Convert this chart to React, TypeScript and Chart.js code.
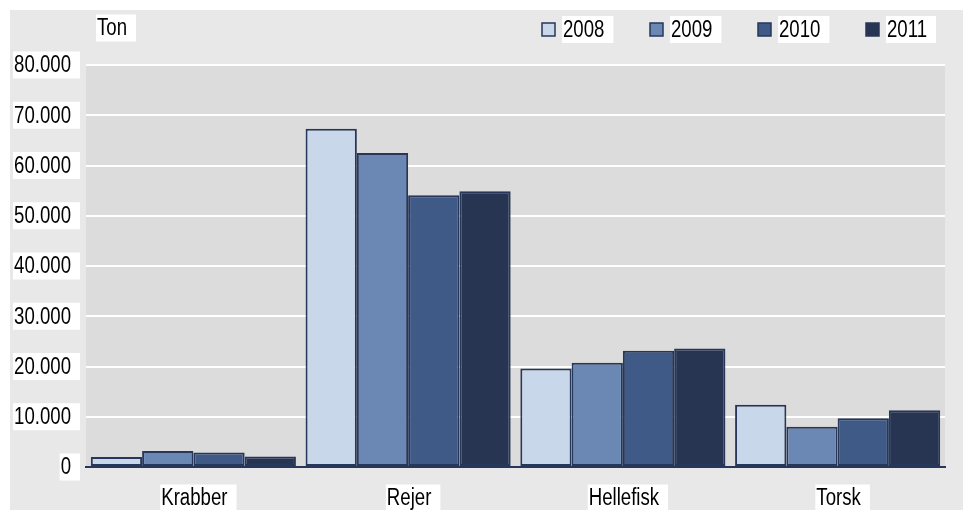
import React, { useEffect, useRef } from "react";
import { Chart, registerables } from "chart.js";

Chart.register(...registerables);

const categories = ["Krabber", "Rejer", "Hellefisk", "Torsk"];
const years = ["2008", "2009", "2010", "2011"];
const v2008 = [2000, 67300, 19600, 12400];
const v2009 = [3200, 62500, 20750, 8000];
const v2010 = [2900, 54100, 23150, 9700];
const v2011 = [2100, 54900, 23600, 11300];
const colors = ["#c8d7ea", "#6b88b5", "#405a87", "#283552"];
const unitLabel = "Ton";

const FONT = '"Liberation Sans", Arial, sans-serif';
const SX = 0.81;

function fmt(v: number): string {
  const s = String(Math.round(v));
  return s.replace(/\B(?=(\d{3})+(?!\d))/g, ".");
}

function textW(ctx: CanvasRenderingContext2D, text: string) {
  return ctx.measureText(text).width * SX;
}

function boxText(ctx: CanvasRenderingContext2D, text: string, left: number, cy: number) {
  const w = textW(ctx, text);
  ctx.fillStyle = "#ffffff";
  ctx.fillRect(left - 1, cy - 13.5, w + 10, 27);
  ctx.save();
  ctx.translate(left, cy + 1);
  ctx.scale(SX, 1);
  ctx.fillStyle = "#000000";
  ctx.textBaseline = "middle";
  ctx.textAlign = "left";
  ctx.fillText(text, 0, 0);
  ctx.restore();
}

const decor = {
  id: "decor",
  beforeDraw(chart: any) {
    const { ctx, chartArea } = chart;
    ctx.save();
    ctx.fillStyle = "#ffffff";
    ctx.fillRect(0, 0, chart.width, chart.height);
    ctx.fillStyle = "#e8e8e8";
    ctx.fillRect(10, 10, chart.width - 12, chart.height - 15);
    ctx.fillStyle = "#dcdcdc";
    ctx.fillRect(chartArea.left, chartArea.top, chartArea.right - chartArea.left, chartArea.bottom - chartArea.top);
    ctx.restore();
  },
  afterDraw(chart: any) {
    const { ctx } = chart;
    const y = chart.scales.y;
    const x = chart.scales.x;
    ctx.save();
    ctx.font = "23px " + FONT;
    y.ticks.forEach((t: any) => {
      const py = y.getPixelForValue(t.value);
      const txt = fmt(t.value);
      const w = textW(ctx, txt);
      boxText(ctx, txt, 71 - w, py);
    });
    categories.forEach((c, i) => {
      const px = x.getPixelForValue(i);
      const w = textW(ctx, c);
      boxText(ctx, c, px - w / 2 + 1, 498);
    });
    boxText(ctx, unitLabel, 97, 28);
    const ds = chart.data.datasets;
    ds.forEach((d: any, i: number) => {
      const bx = 542 + i * 108;
      ctx.fillStyle = d.backgroundColor;
      ctx.fillRect(bx, 23, 13, 13);
      ctx.strokeStyle = "#27375a";
      ctx.lineWidth = 1.5;
      ctx.strokeRect(bx, 23, 13, 13);
      boxText(ctx, d.label, bx + 21, 29.5);
    });
    ctx.restore();
  },
};

export default function App() {
  const ref = useRef<HTMLCanvasElement | null>(null);
  useEffect(() => {
    if (!ref.current) return;
    const series = [v2008, v2009, v2010, v2011];
    const chart = new Chart(ref.current, {
      type: "bar",
      data: {
        labels: categories,
        datasets: years.map((yr, i) => ({
          label: yr,
          data: series[i],
          backgroundColor: colors[i],
          borderColor: "#27375a",
          borderWidth: 2,
          borderSkipped: false,
          categoryPercentage: 0.955,
          barPercentage: 1,
        })),
      },
      options: {
        responsive: false,
        animation: false,
        devicePixelRatio: 1,
        layout: { padding: { top: 65, right: 20, left: 0, bottom: 0 } },
        plugins: { legend: { display: false }, tooltip: { enabled: false } },
        scales: {
          x: {
            grid: { display: false },
            border: { display: true, color: "#27375a", width: 2 },
            ticks: { display: false },
            afterFit: (s: any) => { s.height = 48; },
          },
          y: {
            min: 0,
            max: 80000,
            ticks: { display: false, stepSize: 10000 },
            grid: { color: "#ffffff", lineWidth: 2, drawTicks: false },
            border: { display: false },
            afterFit: (s: any) => { s.width = 86; },
          },
        },
      },
      plugins: [decor],
    });
    return () => chart.destroy();
  }, []);
  return (
    <div style={{ position: "fixed", left: 0, top: 0, width: 965, height: 515 }}>
      <canvas ref={ref} width={965} height={515} />
    </div>
  );
}
